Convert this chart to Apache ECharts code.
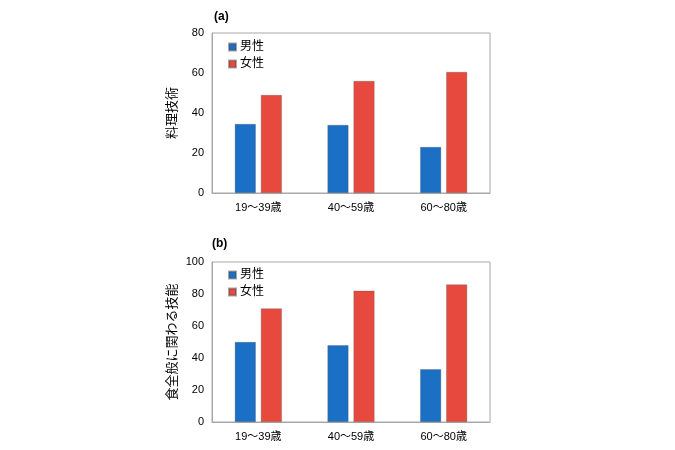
<!DOCTYPE html>
<html>
<head>
<meta charset="utf-8">
<script src="https://cdn.jsdelivr.net/npm/echarts@6/dist/echarts.min.js"></script>
<style>html,body{margin:0;padding:0;background:#fff}#c{width:675px;height:450px}</style>
</head>
<body>
<div id="c"></div>
<script>
var categories = ['19～39歳', '40～59歳', '60～80歳'];
var seriesNames = ['男性', '女性'];
var cookingMale = [34.5, 34, 23];
var cookingFemale = [49, 56, 60.5];
var foodMale = [50, 48, 33];
var foodFemale = [71, 82, 86];
var yNameA = '料理技術';
var yNameB = '食全般に関わる技能';

var FONT = "'Liberation Sans', 'Noto Sans CJK JP', sans-serif";
var BLUE = '#1b6fc4';
var RED = '#e8493f';

var chart = echarts.init(document.getElementById('c'));
function xAxis(idx) {
  return {
    type: 'category', gridIndex: idx, data: categories,
    axisLine: {lineStyle: {color: '#a8a8a8'}},
    axisTick: {show: false},
    axisLabel: {color: '#000', fontSize: 11, fontFamily: FONT, margin: 9}
  };
}
function yAxis(idx, max, interval, name) {
  return {
    type: 'value', gridIndex: idx, min: 0, max: max, interval: interval,
    name: name, nameLocation: 'middle', nameGap: 33, nameRotate: 90,
    nameTextStyle: {color: '#000', fontSize: 13, fontFamily: FONT},
    axisLine: {show: true, lineStyle: {color: '#a8a8a8'}},
    axisTick: {show: false},
    splitLine: {show: false},
    axisLabel: {color: '#000', fontSize: 11, fontFamily: FONT, margin: 8}
  };
}
function bar(name, data, idx, color) {
  return {
    name: name, type: 'bar', xAxisIndex: idx, yAxisIndex: idx, data: data,
    barWidth: 21, barGap: '24%',
    itemStyle: {color: color, borderColor: 'rgba(80,80,80,0.5)', borderWidth: 0.6},
    emphasis: {disabled: true}
  };
}
var legendCommon = {
  orient: 'vertical', itemWidth: 7, itemHeight: 7, itemGap: 5,
  icon: 'rect', selectedMode: false,
  textStyle: {color: '#000', fontSize: 12, fontFamily: FONT, padding: [0, 0, 0, -1]},
  data: seriesNames
};
chart.setOption({
  animation: false,
  title: [
    {text: '(a)', left: 209, top: 6, textStyle: {fontSize: 12, fontWeight: 'bold', fontFamily: FONT, color: '#000'}},
    {text: '(b)', left: 207, top: 233, textStyle: {fontSize: 12, fontWeight: 'bold', fontFamily: FONT, color: '#000'}}
  ],
  legend: [
    Object.assign({left: 223, top: 36}, legendCommon),
    Object.assign({left: 223, top: 264}, legendCommon)
  ],
  grid: [
    {left: 212, top: 33, width: 278, height: 160, show: true, borderColor: '#a8a8a8', borderWidth: 1},
    {left: 212, top: 262, width: 278, height: 160, show: true, borderColor: '#a8a8a8', borderWidth: 1}
  ],
  xAxis: [xAxis(0), xAxis(1)],
  yAxis: [yAxis(0, 80, 20, yNameA), yAxis(1, 100, 20, yNameB)],
  series: [
    bar(seriesNames[0], cookingMale, 0, BLUE),
    bar(seriesNames[1], cookingFemale, 0, RED),
    bar(seriesNames[0], foodMale, 1, BLUE),
    bar(seriesNames[1], foodFemale, 1, RED)
  ]
});
</script>
</body>
</html>
